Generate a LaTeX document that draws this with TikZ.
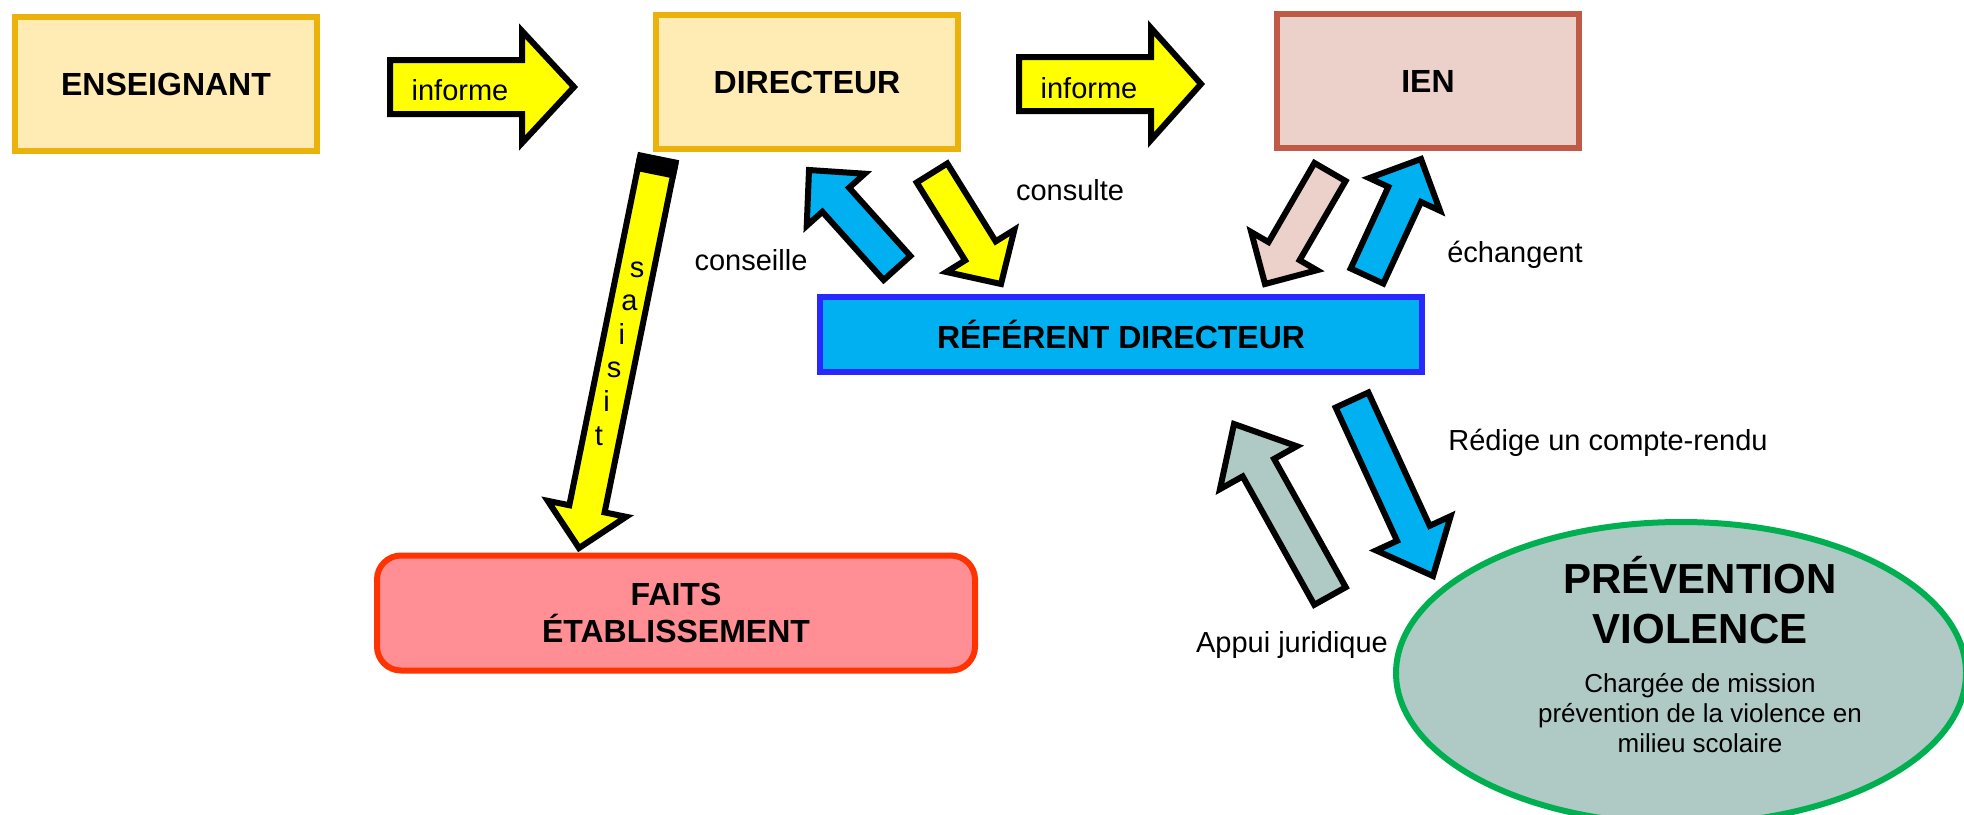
\documentclass[tikz,border=0pt]{standalone}
\usepackage{fontspec}
\setmainfont{Liberation Sans}
\usetikzlibrary{positioning}
\usetikzlibrary{calc}
\usetikzlibrary{shapes.geometric}

\definecolor{boxYellow}{RGB}{255,235,180}
\definecolor{boxGold}{RGB}{236,178,12}
\definecolor{ienPink}{RGB}{236,208,202}
\definecolor{ienBrown}{RGB}{190,90,70}
\definecolor{refBlue}{RGB}{0,176,240}
\definecolor{refBorder}{RGB}{40,40,255}
\definecolor{faitsRed}{RGB}{255,143,148}
\definecolor{faitsBorder}{RGB}{255,51,0}
\definecolor{prevGray}{RGB}{175,201,197}
\definecolor{prevGreen}{RGB}{0,176,80}
\definecolor{arrYellow}{RGB}{255,255,0}

% block arrow: style, from, to, shaft half width, head half width, head length
\newcommand{\blockArrow}[6]{%
  \coordinate (notch) at ($(#3)!#6!(#2)$);
  \draw[#1] ($(#2)!#4!90:(#3)$) -- ($(notch)!#4!90:(#3)$) -- ($(notch)!#5!90:(#3)$)
    -- (#3) -- ($(notch)!#5!-90:(#3)$) -- ($(notch)!#4!-90:(#3)$) -- ($(#2)!#4!-90:(#3)$) -- cycle;
}

\begin{document}
\begin{tikzpicture}[x=0.5pt, y=-0.5pt]
\tikzstyle{boxStyle}=[draw=boxGold, fill=boxYellow, line width=3pt, minimum width=151pt, minimum height=67pt, font=\fontsize{16}{18.5}\selectfont\bfseries]
\tikzstyle{ienStyle}=[boxStyle, draw=ienBrown, fill=ienPink]
\tikzstyle{refStyle}=[boxStyle, draw=refBorder, fill=refBlue, minimum width=301pt, minimum height=37.5pt]
\tikzstyle{faitsStyle}=[boxStyle, draw=faitsBorder, fill=faitsRed, rounded corners=12pt, minimum width=299pt, minimum height=57.5pt, align=center]
\tikzstyle{prevStyle}=[ellipse, draw=prevGreen, fill=prevGray, line width=3pt, minimum width=285pt, minimum height=151pt]
\tikzstyle{arrowStyle}=[draw=black, line width=3pt, line join=miter]
\tikzstyle{labelStyle}=[anchor=base, inner sep=0pt, font=\fontsize{14.5}{17}\selectfont]
\useasboundingbox (0,0) rectangle (1964,814);

\node[boxStyle] (ens) at (166,84) {ENSEIGNANT};
\node[boxStyle] (dir) at (807,82) {DIRECTEUR};
\node[ienStyle] (ien) at (1428,81) {IEN};
\node[refStyle] (ref) at (1121,334) {RÉFÉRENT DIRECTEUR};
\node[faitsStyle] (faits) at (676,613) {FAITS\\ÉTABLISSEMENT};
\node[prevStyle] (prev) at (1681,673) {};
\node[align=center, font=\fontsize{21}{25}\selectfont\bfseries] (prevTitle) at (1700,600) {PRÉVENTION\\VIOLENCE};
\node[align=center, font=\fontsize{13}{15}\selectfont] (prevText) at (1700,713) {Chargée de mission\\prévention de la violence en\\milieu scolaire};

\coordinate (infA1) at (390,87);
\coordinate (infB1) at (574,87);
\coordinate (infA2) at (1019,84);
\coordinate (infB2) at (1201,84);
\coordinate (saiA) at (658,159);
\coordinate (saiB) at (579,548);
\coordinate (conA) at (897,268);
\coordinate (conB) at (809,170);
\coordinate (cstA) at (932,173);
\coordinate (cstB) at (1001,284);
\coordinate (ienA) at (1330,172);
\coordinate (ienB) at (1265,284);
\coordinate (echA) at (1367,276);
\coordinate (echB) at (1421,159);
\coordinate (appA) at (1330,596);
\coordinate (appB) at (1234,424);
\coordinate (redA) at (1352,400);
\coordinate (redB) at (1433,576);

\blockArrow{arrowStyle, fill=arrYellow}{infA1}{infB1}{13.5pt}{28pt}{26pt}
\blockArrow{arrowStyle, fill=arrYellow}{infA2}{infB2}{13.5pt}{28pt}{25pt}
\blockArrow{arrowStyle, fill=arrYellow}{saiA}{saiB}{9pt}{20pt}{20pt}
\blockArrow{arrowStyle, fill=refBlue}{conA}{conB}{9pt}{19.5pt}{20pt}
\blockArrow{arrowStyle, fill=arrYellow}{cstA}{cstB}{9pt}{20pt}{19.5pt}
\blockArrow{arrowStyle, fill=ienPink}{ienA}{ienB}{9pt}{19pt}{19pt}
\blockArrow{arrowStyle, fill=refBlue}{echA}{echB}{9pt}{19.5pt}{19.5pt}
\blockArrow{arrowStyle, fill=prevGray}{appA}{appB}{9pt}{22pt}{25pt}
\blockArrow{arrowStyle, fill=refBlue}{redA}{redB}{9pt}{20.5pt}{23.5pt}

\coordinate (saiC) at ($(saiA)!8pt!(saiB)$);
\fill ($(saiA)!10.5pt!90:(saiB)$) -- ($(saiC)!10.5pt!90:(saiB)$) -- ($(saiC)!10.5pt!-90:(saiB)$) -- ($(saiA)!10.5pt!-90:(saiB)$) -- cycle;

\coordinate (saiTop) at (637,277);
\coordinate (saiBot) at (599,445);
\foreach \ch [count=\i from 0] in {s,a,i,s,i,t}
  \node[labelStyle] (sai\i) at ($(saiTop)!{\i/5}!(saiBot)$) {\ch};

\node[labelStyle] (infLbl1) at (460,100) {informe};
\node[labelStyle] (infLbl2) at (1089,98) {informe};
\node[labelStyle] (cstLbl) at (1070,200) {consulte};
\node[labelStyle] (conLbl) at (751,270) {conseille};
\node[labelStyle] (echLbl) at (1515,262) {échangent};
\node[labelStyle] (redLbl) at (1608,450) {Rédige un compte-rendu};
\node[labelStyle] (appLbl) at (1292,652) {Appui juridique};
\end{tikzpicture}
\end{document}
